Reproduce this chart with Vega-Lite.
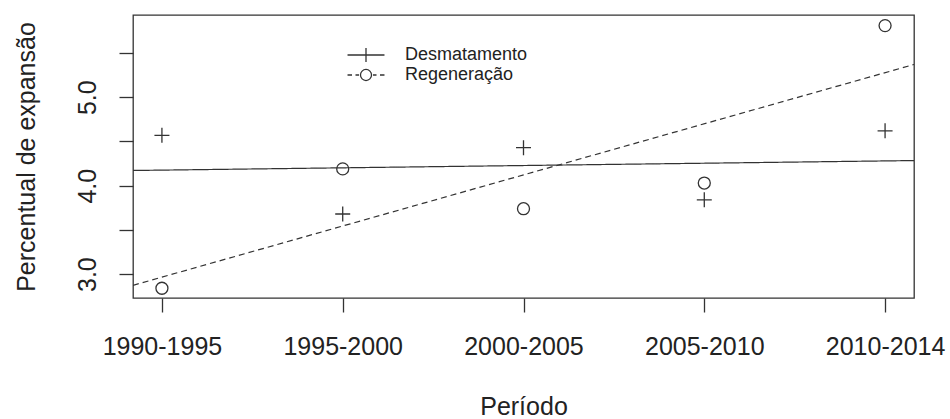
{
  "$schema": "https://vega.github.io/schema/vega-lite/v6.json",
  "width": 781,
  "height": 283,
  "autosize": {"type": "none"},
  "padding": {"left": 133, "top": 15, "right": 36, "bottom": 121},
  "background": "white",
  "config": {
    "font": "Liberation Sans",
    "view": {"stroke": "#333", "strokeWidth": 1.3},
    "axis": {
      "grid": false,
      "domain": false,
      "tickColor": "#333",
      "tickWidth": 1.3,
      "tickSize": 14,
      "labelColor": "#222",
      "titleColor": "#222",
      "labelFontSize": 25,
      "titleFontSize": 25,
      "labelFont": "Liberation Sans",
      "titleFont": "Liberation Sans",
      "titleFontWeight": "normal",
      "labelOverlap": false,
      "labelFlush": false
    }
  },
  "data": {
    "values": [
      {"periodo": "1990-1995", "idx": 1, "serie": "Desmatamento", "valor": 4.57},
      {"periodo": "1995-2000", "idx": 2, "serie": "Desmatamento", "valor": 3.68},
      {"periodo": "2000-2005", "idx": 3, "serie": "Desmatamento", "valor": 4.43},
      {"periodo": "2005-2010", "idx": 4, "serie": "Desmatamento", "valor": 3.84},
      {"periodo": "2010-2014", "idx": 5, "serie": "Desmatamento", "valor": 4.62},
      {"periodo": "1990-1995", "idx": 1, "serie": "Regeneração", "valor": 2.84},
      {"periodo": "1995-2000", "idx": 2, "serie": "Regeneração", "valor": 4.19},
      {"periodo": "2000-2005", "idx": 3, "serie": "Regeneração", "valor": 3.74},
      {"periodo": "2005-2010", "idx": 4, "serie": "Regeneração", "valor": 4.03},
      {"periodo": "2010-2014", "idx": 5, "serie": "Regeneração", "valor": 5.81}
    ]
  },
  "encoding": {
    "x": {
      "field": "idx",
      "type": "quantitative",
      "scale": {"domain": [0.84, 5.16], "nice": false, "zero": false},
      "axis": {
        "values": [1, 2, 3, 4, 5],
        "labelExpr": "['1990-1995','1995-2000','2000-2005','2005-2010','2010-2014'][round(datum.value)-1]",
        "labelPadding": 22,
        "title": "Período",
        "titlePadding": 35
      }
    },
    "y": {
      "field": "valor",
      "type": "quantitative",
      "scale": {"domain": [2.73, 5.93], "nice": false, "zero": false},
      "axis": {
        "values": [3, 3.5, 4, 4.5, 5, 5.5],
        "labelExpr": "datum.value % 1 === 0 ? format(datum.value, '.1f') : ''",
        "labelAngle": -90,
        "labelPadding": 19,
        "title": "Percentual de expansão",
        "titlePadding": 36
      }
    }
  },
  "layer": [
    {
      "transform": [
        {"regression": "valor", "on": "idx", "groupby": ["serie"], "method": "linear", "extent": [0.84, 5.16]}
      ],
      "mark": {"type": "line", "clip": true, "strokeWidth": 1.2, "color": "#333"},
      "encoding": {
        "strokeDash": {
          "field": "serie",
          "type": "nominal",
          "scale": {"range": [[1, 0], [6, 4]]},
          "legend": null
        }
      }
    },
    {
      "mark": {"type": "point", "filled": false, "strokeWidth": 1.3, "color": "#333", "size": 144},
      "encoding": {
        "shape": {
          "field": "serie",
          "type": "nominal",
          "scale": {"domain": ["Desmatamento", "Regeneração"], "range": ["M-1.25,0H1.25M0,-1.25V1.25", "circle"]},
          "legend": null
        },
        "opacity": {
          "field": "serie",
          "type": "ordinal",
          "scale": {"range": [1, 1]},
          "legend": {
            "orient": "none",
            "legendX": 224,
            "legendY": 31,
            "title": null,
            "padding": 0,
            "symbolSize": 196,
            "symbolType": {"expr": "datum.value === 'Desmatamento' ? 'M-2.64,0H2.64M0,-1V1' : 'M-2.64,0H-2.0M-1.5,0H-1.0M1.0,0H1.5M2.0,0H2.64M-0.79,0A0.79,0.79 0 1,0 0.79,0A0.79,0.79 0 1,0 -0.79,0'"},
            "symbolStrokeWidth": 1.3,
            "symbolStrokeColor": "#333",
            "symbolFillColor": "transparent",
            "labelFontSize": 18,
            "labelFont": "Liberation Sans",
            "labelColor": "#222",
            "labelOffset": 30,
            "rowPadding": 1
          }
        }
      }
    }
  ]
}
